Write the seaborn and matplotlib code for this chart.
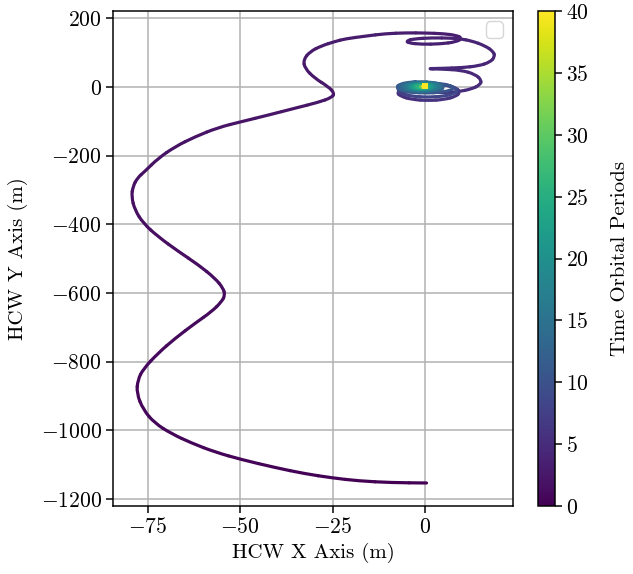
import numpy as np
import matplotlib
matplotlib.use("Agg")
import matplotlib.pyplot as plt
from matplotlib.collections import PatchCollection
from matplotlib.patches import PathPatch
from matplotlib.path import Path
from matplotlib.colors import Normalize
from matplotlib.cm import ScalarMappable
import seaborn as sns

# ---- approach trajectory ----
path_x = [0.4, -9.0, -18.0, -25.2, -32.5, -40.6, -49.6, -56.8, -63.1, -68.5,
          -73.1, -76.2, -78.0, -77.7, -76.2, -72.2, -67.6, -62.2, -57.7, -55.0,
          -54.1, -54.6, -56.8, -61.3, -66.7, -72.2, -76.2, -78.5, -79.4, -79.0,
          -77.8, -75.8, -72.2, -67.6, -62.2, -55.9, -49.6, -42.4, -35.2, -28.9,
          -25.2, -24.5, -26.2, -29.8, -32.5, -32.9, -31.1, -27.9, -24.4, -21.6,
          -16.0, -10.8, -5.0, 0.0, 5.0, 8.5, 10.0, 8.5, 4.0, -1.0,
          -4.5, -5.0, -3.0, 2.0, 7.0, 9.5, 12.6, 16.2, 18.5, 18.9,
          17.6, 14.4, 9.9, 4.5, 0.0, 4.5, 9.9, 13.5, 15.3, 14.9,
          12.6, 9.0, 5.4, 0.0, -5.0]
path_y = [-1153, -1152, -1147, -1138, -1126, -1108, -1085, -1063, -1037, -1010,
          -979, -940, -892, -853, -821, -775, -732, -688, -654, -625,
          -606, -586, -557, -518, -479, -436, -397, -358, -319, -290,
          -265, -246, -208, -174, -145, -118, -101, -82, -62, -45,
          -31, -18, 1, 25, 54, 79, 103, 120, 132, 140,
          148, 155, 157.5, 157, 155, 150, 142, 131, 125, 124,
          128, 134, 140, 143, 142, 140, 134, 120, 103, 88,
          72, 61, 56, 54, 53, 52, 48.5, 37, 20, 6,
          -6, -14, -16.5, -15, -14]
path_t = [0.00, 0.06, 0.12, 0.18, 0.24, 0.30, 0.36, 0.42, 0.48, 0.54,
          0.60, 0.66, 0.72, 0.78, 0.84, 0.90, 0.96, 1.02, 1.08, 1.14,
          1.20, 1.26, 1.32, 1.38, 1.44, 1.50, 1.56, 1.62, 1.68, 1.74,
          1.80, 1.86, 1.92, 1.98, 2.04, 2.10, 2.16, 2.22, 2.28, 2.34,
          2.40, 2.46, 2.52, 2.58, 2.64, 2.70, 2.76, 2.82, 2.88, 2.94,
          3.00, 3.06, 3.12, 3.18, 3.24, 3.30, 3.36, 3.42, 3.48, 3.54,
          3.60, 3.66, 3.72, 3.78, 3.84, 3.90, 3.96, 4.02, 4.08, 4.14,
          4.20, 4.26, 4.32, 4.38, 4.44, 4.50, 4.56, 4.62, 4.68, 4.74,
          4.80, 4.86, 4.92, 4.98, 5.04]

# ---- outer relative-orbit loops ----
outer_x = [-7.7, -6.6, -3.4, 0.9, 5.2, 8.4, 9.5, 8.4, 5.2, 0.9, -3.4, -6.6,
           -7.5, -6.4, -3.4, 0.7, 4.8, 7.8, 8.9, 7.8, 4.8, 0.7, -3.4, -6.4,
           -7.2, -6.2, -3.45, 0.3, 4.05, 6.8, 7.8, 6.8, 4.05, 0.3, -3.45, -6.2]
outer_y = [-15, -27.5, -36.8, -40, -36.8, -27.5, -15, -2.5, 6.8, 10, 6.8, -2.5,
           -10, -20, -27.4, -30, -27.4, -20, -10, 0, 7.4, 10, 7.4, 0,
           -3, -10.5, -16, -18, -16, -10.5, -3, 4.5, 10, 12, 10, 4.5]
outer_t = [5.2, 5.4, 5.6, 5.8, 6.0, 6.2, 6.4, 6.6, 6.8, 7.0, 7.2, 7.4,
           7.6, 7.8, 8.0, 8.2, 8.4, 8.6, 8.8, 9.0, 9.2, 9.4, 9.6, 9.8,
           9.9, 10.0, 10.1, 10.2, 10.3, 10.4, 10.5, 10.6, 10.7, 10.8, 10.9, 11.0]

# ---- converging spiral near the target ----
spiral_x = [-1.3, -4.5, -6.9, -7.7, -6.9, -4.5, -1.3, 1.9, 4.3, 5.1, 4.3, 1.9,
            -1.15, -4.1, -6.3, -7.05, -6.3, -4.1, -1.15, 1.8, 4.0, 4.75, 4.0, 1.8,
            -1.0, -3.65, -5.6, -6.3, -5.6, -3.65, -1.0, 1.65, 3.6, 4.3, 3.6, 1.65,
            -1.0, -3.4, -5.2, -5.8, -5.2, -3.4, -1.0, 1.4, 3.2, 3.8, 3.2, 1.4,
            -1.0, -3.15, -4.7, -5.3, -4.7, -3.15, -1.0, 1.15, 2.7, 3.3, 2.7, 1.15,
            -1.0, -3.7, -4.8, -3.7, -1.0, 1.7, 2.8, 1.7,
            -1.0, -3.3, -4.3, -3.3, -1.0, 1.3, 2.3, 1.3,
            -1.0, -3.0, -3.8, -3.0, -1.0, 1.0, 1.8, 1.0,
            -1.0, -2.6, -3.3, -2.6, -1.0, 0.6, 1.3, 0.6,
            -1.0, -2.3, -2.8, -2.3, -1.0, 0.3, 0.8, 0.3,
            -1.0, -1.9, -2.3, -1.9, -1.0, -0.1, 0.3, -0.1,
            -0.5, -1.1, -1.3, -1.1, -0.5, 0.1, 0.3, 0.1,
            -0.2, -0.5, -0.6, -0.4, 0.0, 0.0]
spiral_y = [15.5, 13.4, 7.5, -0.5, -8.5, -14.4, -16.5, -14.4, -8.5, -0.5, 7.5, 13.4,
            14.7, 12.8, 7.35, 0.0, -7.35, -12.8, -14.7, -12.8, -7.35, 0.0, 7.35, 12.8,
            14.25, 12.5, 7.6, 1.0, -5.6, -10.5, -12.25, -10.5, -5.6, 1.0, 7.6, 12.5,
            13.0, 11.4, 7.0, 1.0, -5.0, -9.4, -11.0, -9.4, -5.0, 1.0, 7.0, 11.4,
            11.75, 10.4, 6.4, 1.0, -4.4, -8.4, -9.75, -8.4, -4.4, 1.0, 6.4, 10.4,
            10.5, 7.7, 1.0, -5.7, -8.5, -5.7, 1.0, 7.7,
            9.25, 6.9, 1.0, -4.9, -7.25, -4.9, 1.0, 6.9,
            8.0, 6.0, 1.0, -4.0, -6.0, -4.0, 1.0, 6.0,
            6.75, 5.1, 1.0, -3.1, -4.75, -3.1, 1.0, 5.1,
            5.5, 4.2, 1.0, -2.2, -3.5, -2.2, 1.0, 4.2,
            4.25, 3.3, 1.0, -1.3, -2.25, -1.3, 1.0, 3.3,
            3.0, 2.4, 1.0, -0.4, -1.0, -0.4, 1.0, 2.4,
            2.2, 2.0, 1.5, 1.2, 1.5, 2.0]
spiral_t = [11.1, 11.2, 11.3, 11.4, 11.5, 11.6, 11.7, 11.8, 11.9, 12.0, 12.1, 12.2,
            12.3, 12.4, 12.5, 12.6, 12.7, 12.8, 12.9, 13.0, 13.1, 13.2, 13.3, 13.4,
            13.5, 13.6, 13.7, 13.8, 13.9, 14.0, 14.1, 14.2, 14.3, 14.4, 14.5, 14.6,
            14.7, 14.8, 14.9, 15.0, 15.1, 15.2, 15.3, 15.4, 15.5, 15.6, 15.7, 15.8,
            15.9, 16.0, 16.1, 16.2, 16.3, 16.4, 16.5, 16.6, 16.7, 16.8, 16.9, 17.0,
            17.2, 17.4, 17.6, 17.8, 18.0, 18.2, 18.4, 18.6,
            18.8, 19.0, 19.2, 19.4, 19.6, 19.8, 20.0, 20.2,
            20.4, 20.6, 20.8, 21.0, 21.2, 21.4, 21.6, 21.8,
            22.0, 22.2, 22.4, 22.6, 22.8, 23.0, 23.2, 23.4,
            23.6, 23.8, 24.0, 24.2, 24.4, 24.6, 24.8, 25.0,
            25.2, 25.4, 25.6, 25.8, 26.0, 26.2, 26.4, 26.6,
            27.0, 28.0, 29.0, 30.0, 31.0, 32.0, 33.0, 34.0,
            35.0, 36.5, 38.0, 39.0, 39.5, 40.0]

final_x = [0.0]
final_y = [2.0]
final_t = [40.0]

t_min, t_max = 0, 40
cbar_ticks = [0, 5, 10, 15, 20, 25, 30, 35, 40]

# ---- style ----
sns.set_theme(style="ticks")
plt.rcParams.update({
    "font.family": ["cmr10", "DejaVu Serif"],
    "mathtext.fontset": "cm",
    "axes.formatter.use_mathtext": True,
    "axes.unicode_minus": True,
    "font.size": 15,
    "axes.labelsize": 15,
    "xtick.labelsize": 15.5,
    "ytick.labelsize": 15.5,
    "legend.fontsize": 15,
    "axes.linewidth": 1.08,
    "xtick.major.width": 1.08,
    "ytick.major.width": 1.08,
    "xtick.major.size": 4.7,
    "ytick.major.size": 4.7,
    "xtick.direction": "out",
    "ytick.direction": "out",
    "axes.edgecolor": "black",
    "xtick.color": "black",
    "ytick.color": "black",
    "text.color": "black",
    "axes.labelcolor": "black",
})

fig = plt.figure(figsize=(6.33, 5.74), dpi=100)
ax = fig.add_axes([113 / 633, 68 / 574, 400 / 633, 495 / 574])
cax = fig.add_axes([538 / 633, 68 / 574, 17 / 633, 495 / 574])

xs = np.array(path_x + outer_x + spiral_x, dtype=float)
ys = np.array(path_y + outer_y + spiral_y, dtype=float)
ts = np.array(path_t + outer_t + spiral_t, dtype=float)

norm = Normalize(t_min, t_max)
cmap = plt.get_cmap("viridis")

# smooth rendering: quadratic Bezier pieces between midpoints, the read
# points acting as control points (pure drawing, no new data values)
P = np.column_stack([xs, ys])
M = 0.5 * (P[:-1] + P[1:])
patches, cols = [], []
patches.append(PathPatch(Path([P[0], M[0]], [Path.MOVETO, Path.LINETO])))
cols.append(cmap(norm(ts[0])))
for i in range(1, len(P) - 1):
    patches.append(PathPatch(Path([M[i - 1], P[i], M[i]],
                                  [Path.MOVETO, Path.CURVE3, Path.CURVE3])))
    cols.append(cmap(norm(ts[i])))
patches.append(PathPatch(Path([M[-1], P[-1]], [Path.MOVETO, Path.LINETO])))
cols.append(cmap(norm(ts[-1])))
pc = PatchCollection(patches, facecolors="none", edgecolors=cols,
                     linewidths=2.3, capstyle="round", joinstyle="round")
ax.add_collection(pc)

sns.scatterplot(x=final_x, y=final_y, hue=final_t, palette="viridis",
                hue_norm=(t_min, t_max), marker="s", s=22, linewidth=0,
                legend=False, ax=ax, zorder=3)

ax.set_xlim(-84.4, 23.8)
ax.set_ylim(-1220, 221)
ax.set_xticks([-75, -50, -25, 0])
ax.set_yticks([-1200, -1000, -800, -600, -400, -200, 0, 200])
ax.grid(True, color="#b0b0b0", linewidth=1.08)
ax.set_axisbelow(True)
ax.set_xlabel("HCW X Axis (m)")
ax.set_ylabel("HCW Y Axis (m)", labelpad=9)
ax.legend(handles=[], labels=[], loc="upper right")

sm = ScalarMappable(norm=norm, cmap=cmap)
cb = fig.colorbar(sm, cax=cax, ticks=cbar_ticks)
cb.set_label("Time Orbital Periods", labelpad=16)
cb.outline.set_linewidth(1.08)

fig.savefig("out.png", dpi=100)
